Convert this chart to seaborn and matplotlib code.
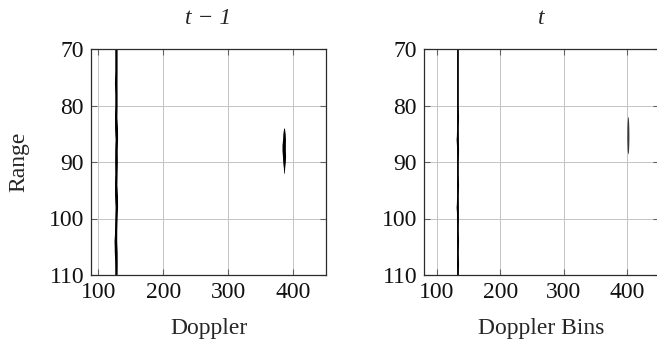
import matplotlib
matplotlib.use("Agg")
import matplotlib.pyplot as plt
import seaborn as sns
import numpy as np
import pandas as pd

# ---- data ----
titles = ["t − 1", "t"]
xlabels = ["Doppler", "Doppler Bins"]
ylabel = "Range"
xticks = [100, 200, 300, 400]
yticks = [70, 80, 90, 100, 110]
xlims = [(89, 450), (80, 450)]
ylim = (110, 70)

# range samples along the strong stationary stripe
stripe_range = [70, 72, 74, 76, 78, 80, 82, 84, 86, 88, 90, 92, 94, 96, 98, 100, 102, 104, 106, 108, 110]
# previous frame (t-1) stripe: centre doppler and half width
prev_center = [127.5, 127.5, 127.5, 127.0, 127.5, 127.5, 127.0, 127.5, 128.0, 127.5, 127.5, 127.5, 127.0, 127.5, 128.0, 127.5, 127.0, 126.5, 127.0, 127.5, 127.5]
prev_half = [1.6, 1.6, 1.6, 2.0, 1.6, 1.6, 1.8, 2.2, 1.8, 1.8, 2.0, 1.6, 1.8, 2.2, 1.8, 1.6, 1.6, 2.0, 2.2, 1.8, 1.6]
# current frame (t) stripe
cur_center = [133.0, 133.0, 133.0, 133.0, 133.0, 133.0, 133.0, 133.0, 132.5, 133.0, 133.0, 133.0, 133.0, 133.0, 132.5, 133.0, 133.0, 133.0, 133.0, 133.0, 133.0]
cur_half = [1.0, 1.0, 1.0, 1.0, 1.0, 1.0, 1.4, 1.0, 1.7, 1.4, 1.0, 1.0, 1.4, 1.0, 1.7, 1.2, 1.0, 1.4, 1.0, 1.4, 1.0]

# moving target blob
prev_blob_range = [84.0, 85.0, 86.0, 87.0, 88.0, 89.0, 90.0, 91.0, 92.0]
prev_blob_center = [385.5, 385.5, 385.5, 385.0, 385.0, 385.5, 385.5, 385.5, 385.5]
prev_blob_half = [0.6, 1.8, 2.2, 2.6, 2.6, 2.4, 2.0, 1.0, 0.4]
cur_blob_range = [82.0, 83.0, 84.0, 85.0, 86.0, 87.0, 88.0, 88.5]
cur_blob_center = [401.0, 401.0, 401.0, 401.0, 401.0, 401.0, 401.0, 401.0]
cur_blob_half = [0.5, 1.2, 1.5, 1.6, 1.6, 1.4, 1.0, 0.4]

sns.set_theme(style="white")
plt.rcParams["font.family"] = ["Liberation Serif", "DejaVu Serif"]

fig = plt.figure(figsize=(6.57, 3.45), dpi=100)
fig.patch.set_facecolor("white")
ax_l = fig.add_axes([91 / 657, 70 / 345, 235 / 657, 226 / 345])
ax_r = fig.add_axes([424 / 657, 70 / 345, 235 / 657, 226 / 345])

frames = [
    (ax_l, prev_center, prev_half, prev_blob_range, prev_blob_center, prev_blob_half, "#000000", "#000000"),
    (ax_r, cur_center, cur_half, cur_blob_range, cur_blob_center, cur_blob_half, "#000000", "#3a3a3a"),
]

fs = 17
for i, (ax, cen, half, brange, bcen, bhalf, scol, bcol) in enumerate(frames):
    ax.set_facecolor("white")
    ax.set_xlim(*xlims[i])
    ax.set_ylim(*ylim)
    ax.set_xticks(xticks)
    ax.set_yticks(yticks)
    ax.grid(True, color="#c4c4c4", linewidth=0.7)
    ax.set_axisbelow(True)

    df = pd.DataFrame({"range": stripe_range, "doppler": cen})
    sns.lineplot(data=df, x="doppler", y="range", orient="y", sort=False,
                 color=scol, linewidth=0.8, ax=ax)
    c = np.array(cen); h = np.array(half)
    ax.fill_betweenx(stripe_range, c - h, c + h, color=scol, linewidth=0)

    bc = np.array(bcen); bh = np.array(bhalf)
    ax.fill_betweenx(brange, bc - bh, bc + bh, color=bcol, linewidth=0)

    for s in ax.spines.values():
        s.set_visible(True)
        s.set_color("#2b2b2b")
        s.set_linewidth(0.9)
    ax.tick_params(axis="both", which="major", direction="in", length=4,
                   width=0.8, color="#606060", top=True, right=True,
                   bottom=True, left=True, labelsize=fs)
    ax.tick_params(axis="x", pad=5)
    ax.tick_params(axis="y", pad=5)
    ax.set_title(titles[i], fontsize=fs, fontstyle="italic", pad=18)
    ax.set_xlabel(xlabels[i], fontsize=fs, labelpad=11)
    ax.set_ylabel("")
    for lab in ax.get_xticklabels() + ax.get_yticklabels():
        lab.set_color("#111111")

ax_l.set_ylabel(ylabel, fontsize=fs, labelpad=14)

fig.savefig("out.png", dpi=100, facecolor="white")
